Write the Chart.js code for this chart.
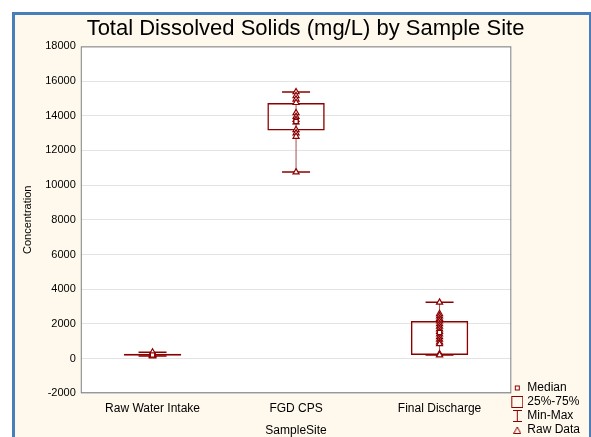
<!DOCTYPE html>
<html>
<head>
<meta charset="utf-8">
<script src="https://cdn.jsdelivr.net/npm/chart.js@4.4.0/dist/chart.umd.min.js"></script>
<style>
  html, body { margin: 0; padding: 0; background: #fff; }
  #frame {
    position: absolute; left: 12px; top: 12px; width: 574px; height: 425px;
    border-top: 3px solid #4a7ebb; border-left: 3px solid #4a7ebb; border-right: 3px solid #4a7ebb;
    background: #fff9ed;
  }
  #chart { position: absolute; left: 0; top: 0; }
</style>
</head>
<body>
<div id="frame"><canvas id="chart" width="571" height="422"></canvas></div>
<script>
// box plot summary per sample site
const sites = ['Raw Water Intake', 'FGD CPS', 'Final Discharge'];
const mins = [140, 10750, 200];
const q1s = [160, 13150, 210];
const medians = [200, 13670, 1500];
const q3s = [280, 14740, 2160];
const maxs = [360, 15370, 3240];
const yTicks = [-2000, 0, 2000, 4000, 6000, 8000, 10000, 12000, 14000, 16000, 18000];

// raw samples
const rawWater = [140, 170, 190, 200, 230, 260, 360];
const rawFgd = [15370, 15150, 14950, 14750, 14160, 13950, 13770, 13630, 13190, 13000, 12800, 10750];
const rawFinal = [3240, 2580, 2450, 2300, 2150, 2000, 1850, 1700, 1550, 1400, 1250, 1100, 950, 840, 260, 200];

const RED = '#8b0000';
const FONT = 'Arial, "Liberation Sans", sans-serif';

// little icons for the legend
function icon(w, h, draw) {
  const c = document.createElement('canvas');
  c.width = w; c.height = h;
  const g = c.getContext('2d');
  g.strokeStyle = RED; g.fillStyle = RED; g.lineWidth = 1;
  draw(g);
  return c;
}
const medianIcon = icon(7, 7, g => { g.strokeRect(1.5, 1.5, 4, 4); });
const boxIcon = icon(12, 12, g => { g.strokeRect(0.5, 0.5, 11, 11); });
const whiskIcon = icon(9, 12, g => {
  g.beginPath();
  g.moveTo(0, 0.5); g.lineTo(9, 0.5);
  g.moveTo(4.5, 0); g.lineTo(4.5, 12);
  g.moveTo(0, 11.5); g.lineTo(9, 11.5);
  g.stroke();
});
const triIcon = icon(8, 8, g => {
  g.beginPath(); g.moveTo(4, 1); g.lineTo(7.5, 7.5); g.lineTo(0.5, 7.5); g.closePath(); g.stroke();
});

function points(site, vals) {
  return vals.map(v => ({ x: site, y: v }));
}

const whiskerSets = sites.map((s, i) => ({
  type: 'line',
  data: [{ x: s, y: mins[i] }, { x: s, y: maxs[i] }],
  borderColor: '#a85050',
  borderWidth: 1,
  pointStyle: 'line',
  pointRadius: 14,
  pointBorderColor: RED,
  pointBorderWidth: 1.5,
  order: 2
}));

const plotBg = {
  id: 'plotBg',
  beforeDraw(chart) {
    const { ctx, chartArea: a } = chart;
    ctx.save();
    ctx.fillStyle = '#fff';
    ctx.fillRect(a.left, a.top, a.right - a.left, a.bottom - a.top);
    ctx.restore();
  },
  afterDraw(chart) {
    const { ctx, chartArea: a } = chart;
    ctx.save();
    ctx.strokeStyle = '#7f7f7f';
    ctx.lineWidth = 1;
    ctx.strokeRect(a.left + 0.5, a.top + 0.5, a.right - a.left - 1, a.bottom - a.top - 1);
    ctx.restore();
  }
};

new Chart(document.getElementById('chart'), {
  type: 'bar',
  data: {
    labels: sites,
    datasets: [
      {
        data: sites.map((s, i) => [q1s[i], q3s[i]]),
        backgroundColor: 'rgba(255,255,255,0)',
        borderColor: RED,
        borderWidth: 1.5,
        borderSkipped: false,
        barPercentage: 0.4,
        categoryPercentage: 1,
        order: 3
      },
      ...whiskerSets,
      {
        type: 'line', showLine: false,
        data: [...points(sites[0], rawWater), ...points(sites[1], rawFgd), ...points(sites[2], rawFinal)],
        pointStyle: 'triangle', pointRadius: 3.5,
        pointBorderColor: RED, pointBackgroundColor: '#fff', pointBorderWidth: 1.2,
        order: 1
      },
      {
        type: 'line', showLine: false,
        data: sites.map((s, i) => ({ x: s, y: medians[i] })),
        pointStyle: 'rect', pointRadius: 3,
        pointBorderColor: RED, pointBackgroundColor: '#fff', pointBorderWidth: 1.2,
        order: 0
      }
    ]
  },
  options: {
    responsive: false,
    animation: false,
    layout: { padding: { left: 6, right: -4, top: 1, bottom: -1 } },
    plugins: {
      title: {
        display: true,
        text: 'Total Dissolved Solids (mg/L) by Sample Site',
        color: '#000',
        font: { family: FONT, size: 22, weight: 'normal' },
        padding: { top: 0, bottom: 4 }
      },
      tooltip: { enabled: false },
      legend: {
        position: 'right',
        align: 'end',
        labels: {
          usePointStyle: true,
          boxWidth: 8,
          padding: 2,
          color: '#000',
          font: { family: FONT, size: 12 },
          generateLabels: () => [
            { text: 'Median', pointStyle: medianIcon, fontColor: '#000', hidden: false, lineWidth: 0 },
            { text: '25%-75%', pointStyle: boxIcon, fontColor: '#000', hidden: false, lineWidth: 0 },
            { text: 'Min-Max', pointStyle: whiskIcon, fontColor: '#000', hidden: false, lineWidth: 0 },
            { text: 'Raw Data', pointStyle: triIcon, fontColor: '#000', hidden: false, lineWidth: 0 }
          ]
        }
      }
    },
    scales: {
      x: {
        grid: { display: false, drawTicks: false },
        border: { display: false },
        ticks: { color: '#000', font: { family: FONT, size: 12 }, padding: 8 },
        title: { display: true, text: 'SampleSite', color: '#000', font: { family: FONT, size: 12 }, padding: { top: 0, bottom: 0 } }
      },
      y: {
        min: -2000, max: 18000,
        afterBuildTicks: axis => { axis.ticks = yTicks.map(v => ({ value: v })); },
        grid: { color: '#e3e3e3', drawTicks: false },
        border: { display: false },
        ticks: { color: '#000', font: { family: FONT, size: 11 }, padding: 5, callback: v => String(v) },
        title: { display: true, text: 'Concentration', color: '#000', font: { family: FONT, size: 11 }, padding: { top: 0, bottom: 6 } }
      }
    }
  },
  plugins: [plotBg]
});
</script>
</body>
</html>
